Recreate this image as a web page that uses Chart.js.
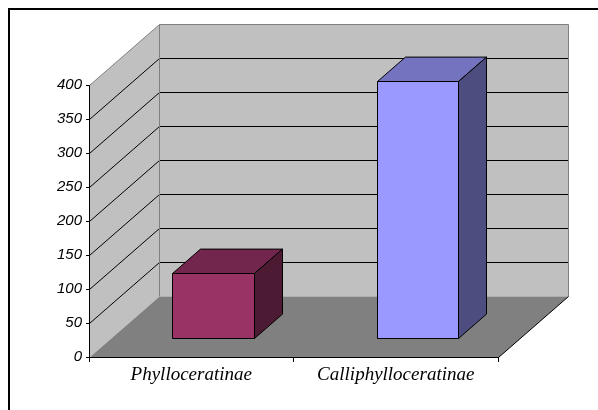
<!DOCTYPE html>
<html>
<head>
<meta charset="utf-8">
<script src="https://cdn.jsdelivr.net/npm/chart.js@4"></script>
<style>
  html, body { margin: 0; padding: 0; background: #fff; }
  canvas { display: block; }
</style>
</head>
<body>
<canvas id="chart" width="598" height="410"></canvas>
<script>
// ข้อมูลของกราฟ
const categories = ['Phylloceratinae', 'Calliphylloceratinae'];
const values = [96, 378];
const yMin = 0;
const yMax = 400;
const yStep = 50;

// สีของแต่ละแท่ง: ด้านหน้า, ด้านบน, ด้านข้าง
const frontColors = ['#993366', '#9999ff'];
const topColors = ['#73264d', '#7373bf'];
const sideColors = ['#4d1a33', '#4d4d80'];

// ความลึกของกล่อง 3 มิติ
const DEPTH_X = 70;
const DEPTH_Y = 61;
const BAR_FRONT = 0.31;
const BAR_BACK = 0.71;

function poly(ctx, pts, fill, stroke) {
    ctx.beginPath();
    ctx.moveTo(pts[0][0], pts[0][1]);
    for (let i = 1; i < pts.length; i++) {
        ctx.lineTo(pts[i][0], pts[i][1]);
    }
    ctx.closePath();
    if (fill) {
        ctx.fillStyle = fill;
        ctx.fill();
    }
    if (stroke) {
        ctx.strokeStyle = stroke;
        ctx.lineWidth = 1;
        ctx.stroke();
    }
}

/**
 * วาดผนัง พื้น และแท่งแบบ 3 มิติ
 */
const box3dPlugin = {
    id: 'box3d',
    beforeDraw(chart) {
        const ctx = chart.ctx;
        const a = chart.chartArea;
        const yScale = chart.scales.y;
        const L = Math.round(a.left) + 0.5;
        const R = Math.round(a.right) + 0.5;
        const T = Math.round(a.top) + 0.5;
        const B = Math.round(a.bottom) + 0.5;

        ctx.save();

        // กรอบนอก
        ctx.fillStyle = '#000';
        ctx.fillRect(8, 8, 590, 2);
        ctx.fillRect(8, 8, 2, 402);

        // ผนังข้าง ผนังหลัง และพื้น
        poly(ctx, [[L, B], [L, T], [L + DEPTH_X, T - DEPTH_Y], [L + DEPTH_X, B - DEPTH_Y]], '#c0c0c0');
        poly(ctx, [[L + DEPTH_X, T - DEPTH_Y], [R + DEPTH_X, T - DEPTH_Y], [R + DEPTH_X, B - DEPTH_Y], [L + DEPTH_X, B - DEPTH_Y]], '#c0c0c0');
        poly(ctx, [[L, B], [R, B], [R + DEPTH_X, B - DEPTH_Y], [L + DEPTH_X, B - DEPTH_Y]], '#808080');

        // เส้นกริด
        ctx.strokeStyle = '#000';
        ctx.lineWidth = 1;
        yScale.ticks.forEach(t => {
            if (t.value <= yMin || t.value >= yMax) return;
            const y = Math.round(yScale.getPixelForValue(t.value)) + 0.5;
            ctx.beginPath();
            ctx.moveTo(L, y);
            ctx.lineTo(L + DEPTH_X, y - DEPTH_Y);
            ctx.lineTo(R + DEPTH_X, y - DEPTH_Y);
            ctx.stroke();
        });

        // ขอบผนัง
        ctx.strokeStyle = '#808080';
        ctx.beginPath();
        ctx.moveTo(L, T);
        ctx.lineTo(L + DEPTH_X, T - DEPTH_Y);
        ctx.lineTo(R + DEPTH_X, T - DEPTH_Y);
        ctx.lineTo(R + DEPTH_X, B - DEPTH_Y);
        ctx.moveTo(L + DEPTH_X, T - DEPTH_Y);
        ctx.lineTo(L + DEPTH_X, B - DEPTH_Y);
        ctx.stroke();

        // ขอบขวาของพื้น
        ctx.strokeStyle = '#000';
        ctx.beginPath();
        ctx.moveTo(R, B);
        ctx.lineTo(R + DEPTH_X, B - DEPTH_Y);
        ctx.stroke();

        ctx.restore();
    },
    afterDatasetsDraw(chart) {
        const ctx = chart.ctx;
        const meta = chart.getDatasetMeta(0);
        const fx = BAR_FRONT * DEPTH_X;
        const fy = BAR_FRONT * DEPTH_Y;
        const bx = (BAR_BACK - BAR_FRONT) * DEPTH_X;
        const by = (BAR_BACK - BAR_FRONT) * DEPTH_Y;

        ctx.save();
        meta.data.forEach((bar, i) => {
            const half = bar.width / 2;
            const x0 = Math.round(bar.x - half + fx) + 0.5;
            const x1 = Math.round(bar.x + half + fx) + 0.5;
            const top = Math.round(bar.y - fy) + 0.5;
            const bottom = Math.round(bar.base - fy) + 0.5;

            poly(ctx, [[x0, top], [x1, top], [x1, bottom], [x0, bottom]], frontColors[i], '#000');
            poly(ctx, [[x0, top], [x0 + bx, top - by], [x1 + bx, top - by], [x1, top]], topColors[i], '#000');
            poly(ctx, [[x1, top], [x1 + bx, top - by], [x1 + bx, bottom - by], [x1, bottom]], sideColors[i], '#000');
        });
        ctx.restore();
    }
};

new Chart(document.getElementById('chart'), {
    type: 'bar',
    data: {
        labels: categories,
        datasets: [{
            data: values,
            backgroundColor: 'rgba(0,0,0,0)',
            borderWidth: 0,
            categoryPercentage: 1,
            barPercentage: 0.4
        }]
    },
    options: {
        responsive: false,
        animation: false,
        devicePixelRatio: 1,
        layout: {
            padding: { left: 44, top: 85, right: 100, bottom: 23 }
        },
        plugins: {
            legend: { display: false },
            tooltip: { enabled: false }
        },
        scales: {
            x: {
                grid: { offset: true, drawOnChartArea: false, tickLength: 5, color: '#000' },
                border: { color: '#000' },
                ticks: {
                    color: '#000',
                    padding: 2,
                    maxRotation: 0,
                    font: { family: '"Liberation Serif", "Times New Roman", serif', style: 'italic', size: 19 }
                },
                afterFit(scale) { scale.height = 30; }
            },
            y: {
                min: yMin,
                max: yMax,
                ticks: {
                    stepSize: yStep,
                    color: '#000',
                    padding: 4,
                    font: { family: '"Liberation Sans", Arial, sans-serif', style: 'italic', size: 15 }
                },
                grid: { drawOnChartArea: false, tickLength: 3, color: '#000' },
                border: { color: '#000' },
                afterFit(scale) { scale.width = 45; }
            }
        }
    },
    plugins: [box3dPlugin]
});
</script>
</body>
</html>
